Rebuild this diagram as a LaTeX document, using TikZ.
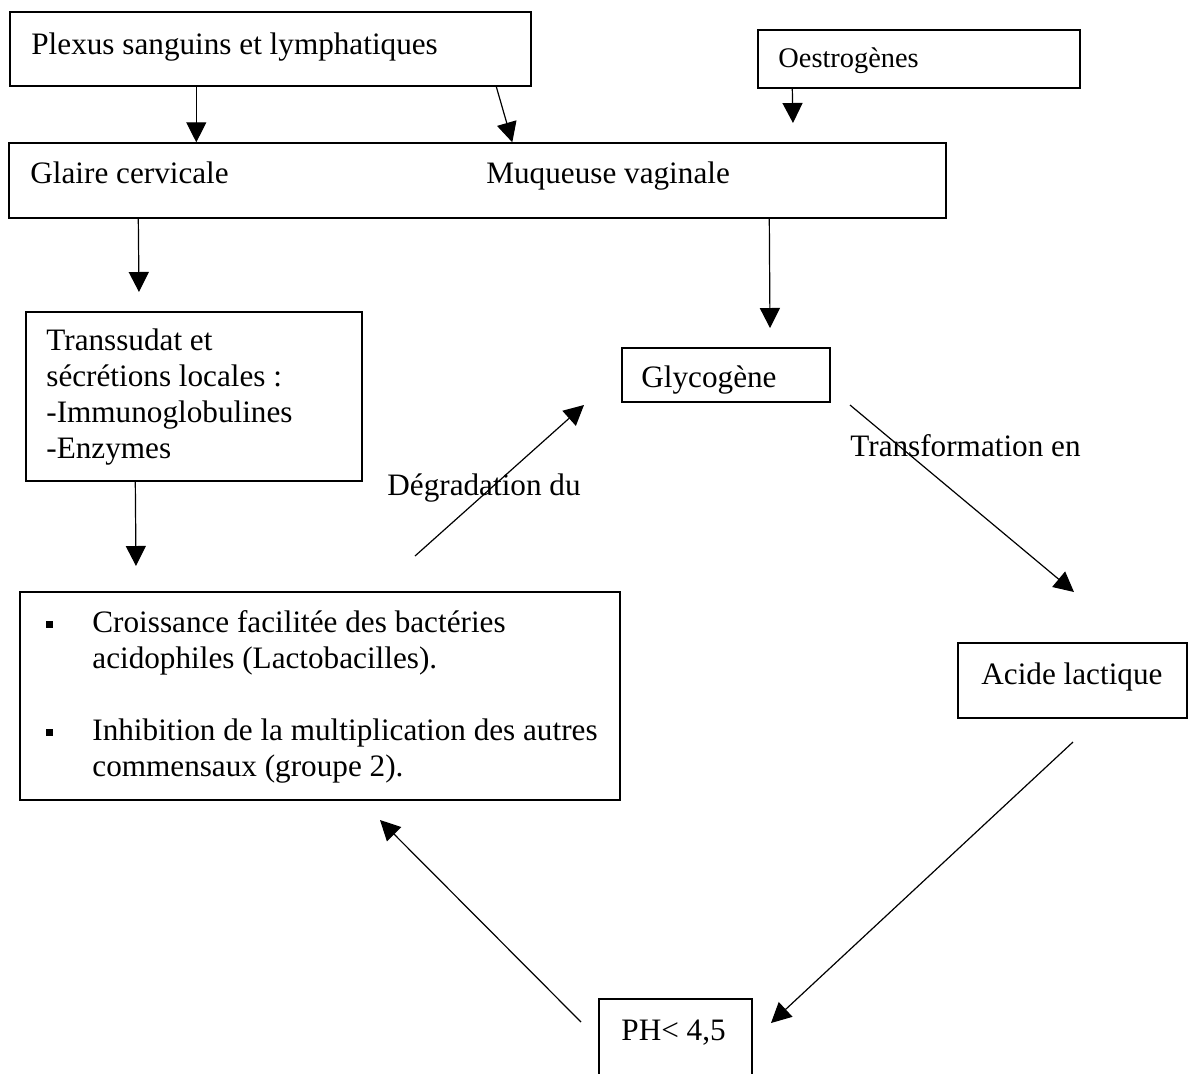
\documentclass[tikz,border=0pt]{standalone}
\usepackage{fontspec}
\setmainfont{Liberation Serif}
\usetikzlibrary{arrows.meta}
\usetikzlibrary{fit}

\begin{document}
\begin{tikzpicture}[x=0.5pt, y=-0.5pt,
        >={Triangle[length=10pt, width=10pt]},
        cadre/.style={draw, line width=0.7pt, inner sep=0pt},
        texte/.style={inner sep=0pt, anchor=base west, font=\fontsize{15.6pt}{18pt}\selectfont},
        puce/.style={fill, inner sep=0pt, minimum size=3.5pt},
        fleche/.style={->, line width=0.6pt}]
    \useasboundingbox (0, 0) rectangle (1190, 1073);

    % \draw[help lines] (0, 0) grid[step=100] (1190, 1073);

    \node [cadre, fit={(10, 12) (531, 86)}] (plexus) {};
    \node [texte] (plexus-t) at (31, 54) {Plexus sanguins et lymphatiques};

    \node [cadre, fit={(758, 30) (1080, 88)}] (oestro) {};
    \node [texte, font=\fontsize{14.2pt}{17pt}\selectfont] (oestro-t) at (778, 67) {Oestrogènes};

    \node [cadre, fit={(9, 143) (946, 218)}] (muqueuse) {};
    \node [texte] (glaire-t) at (30, 183) {Glaire cervicale};
    \node [texte] (muqueuse-t) at (486, 183) {Muqueuse vaginale};

    \node [cadre, fit={(26, 312) (362, 481)}] (transsudat) {};
    \node [texte, text width=160pt, align=flush left] (transsudat-t) at (46, 350)
        {Transsudat et\\sécrétions locales :\\-Immunoglobulines\\-Enzymes};

    \node [cadre, fit={(622, 348) (830, 402)}] (glycogene) {};
    \node [texte] (glycogene-t) at (641, 387) {Glycogène};

    \node [cadre, fit={(20, 592) (620, 800)}] (croissance) {};
    \node [puce] (puce1) at (49, 624) {};
    \node [puce] (puce2) at (49, 732) {};
    \node [texte, text width=262pt, align=flush left] (croissance-t) at (92, 632)
        {Croissance facilitée des bactéries\\acidophiles (Lactobacilles).\\[18pt]%
         Inhibition de la multiplication des autres\\commensaux (groupe 2).};

    \node [cadre, fit={(958, 643) (1187, 718)}] (acide) {};
    \node [texte] (acide-t) at (981, 684) {Acide lactique};

    \node [cadre, fit={(599, 999) (752, 1100)}] (ph) {};
    \node [texte] (ph-t) at (621, 1040) {PH< 4,5};

    % bouts libres des fleches
    \coordinate (oestro-fin) at (793, 123);
    \coordinate (glaire-fin) at (139, 292);
    \coordinate (muqueuse-fin) at (770, 328);
    \coordinate (transsudat-fin) at (136, 566);
    \coordinate (degradation-a) at (415, 556);
    \coordinate (degradation-b) at (584, 405);
    \coordinate (transformation-a) at (850, 405);
    \coordinate (transformation-b) at (1074, 592);
    \coordinate (acide-a) at (1073, 742);
    \coordinate (acide-b) at (771, 1023);
    \coordinate (ph-a) at (581, 1022);
    \coordinate (ph-b) at (380, 820);

    \draw [fleche] ([xshift=93.5pt]plexus.south west) to ([xshift=94pt]muqueuse.north west);
    \draw [fleche] ([xshift=243.5pt]plexus.south west) to ([xshift=252pt]muqueuse.north west);
    \draw [fleche] ([xshift=17.5pt]oestro.south west) to (oestro-fin);

    \draw [fleche] ([xshift=65pt]muqueuse.south west) to (glaire-fin);
    \draw [fleche] ([xshift=380.5pt]muqueuse.south west) to (muqueuse-fin);
    \draw [fleche] ([xshift=55pt]transsudat.south west) to (transsudat-fin);

    \draw [fleche] (degradation-a) to (degradation-b);
    \node [texte] (degradation-t) at (387, 495) {Dégradation du};

    \draw [fleche] (transformation-a) to (transformation-b);
    \node [texte] (transformation-t) at (850, 456) {Transformation en};

    \draw [fleche] (acide-a) to (acide-b);
    \draw [fleche] (ph-a) to (ph-b);
\end{tikzpicture}
\end{document}
